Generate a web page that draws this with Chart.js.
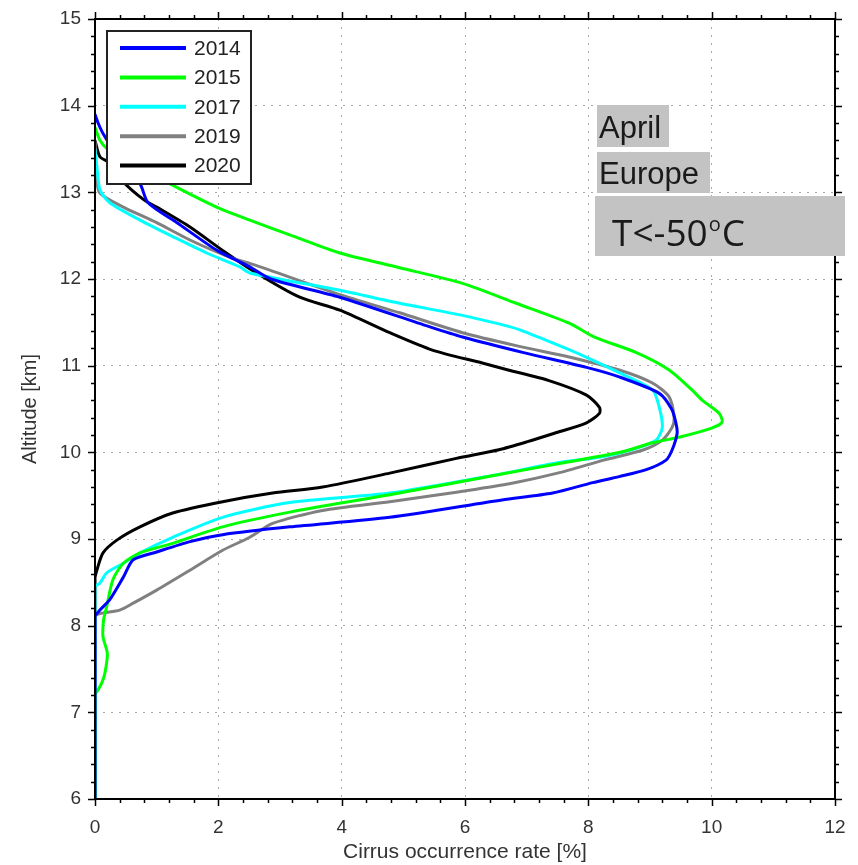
<!DOCTYPE html>
<html>
<head>
<meta charset="utf-8">
<script src="https://cdn.jsdelivr.net/npm/chart.js@4.4.1/dist/chart.umd.min.js"></script>
<style>
  html, body { margin: 0; padding: 0; background: #fff; }
  canvas { display: block; }
</style>
</head>
<body>
<canvas id="chart" width="858" height="865"></canvas>
<script>
// profiles: altitude [km] top to bottom, occurrence rate [%]
var years = ['2014', '2015', '2017', '2019', '2020'];

var alt2014  = [13.9, 13.8, 13.68, 13.4, 13.1, 12.88, 12.65, 12.33, 12.14, 12.0, 11.79, 11.45, 11.33, 11.15, 10.98, 10.87, 10.68, 10.5, 10.34, 10.22, 10.03, 9.91, 9.8, 9.72, 9.65, 9.53, 9.45, 9.25, 9.14, 9.05, 8.97, 8.85, 8.76, 8.56, 8.3, 8.18, 8.1, 6.0];
var rate2014 = [0, 0.05, 0.13, 0.38, 0.73, 0.86, 1.33, 1.98, 2.51, 2.85, 3.97, 5.42, 5.96, 6.95, 7.97, 8.5, 9.15, 9.35, 9.42, 9.44, 9.36, 9.26, 8.94, 8.5, 8.07, 7.42, 6.6, 4.78, 3.16, 2.07, 1.54, 1.0, 0.62, 0.46, 0.24, 0.08, 0, 0];

var alt2015  = [13.75, 13.6, 13.5, 13.3, 13.1, 12.83, 12.68, 12.48, 12.3, 12.13, 11.95, 11.72, 11.49, 11.33, 11.15, 10.95, 10.72, 10.6, 10.45, 10.35, 10.28, 10.18, 10.11, 10.0, 9.88, 9.75, 9.51, 9.31, 9.14, 8.95, 8.84, 8.72, 8.53, 8.22, 8.07, 7.87, 7.68, 7.45, 7.34, 7.26, 7.2, 6.0];
var rate2015 = [0, 0.08, 0.2, 0.7, 1.21, 1.97, 2.51, 3.27, 3.97, 4.94, 5.96, 6.83, 7.69, 8.1, 8.78, 9.31, 9.68, 9.85, 10.12, 10.17, 10.0, 9.5, 9.04, 8.52, 7.6, 6.6, 4.78, 3.16, 2.07, 1.26, 0.73, 0.46, 0.29, 0.19, 0.14, 0.13, 0.2, 0.16, 0.11, 0.05, 0, 0];

var alt2017  = [13.5, 13.3, 13.03, 12.88, 12.68, 12.49, 12.3, 12.14, 12.07, 11.87, 11.72, 11.58, 11.45, 11.41, 11.24, 11.12, 10.92, 10.72, 10.52, 10.29, 10.14, 10.03, 9.95, 9.88, 9.74, 9.53, 9.42, 9.25, 9.02, 8.84, 8.72, 8.61, 8.49, 8.45, 6.0];
var rate2017 = [0, 0.03, 0.08, 0.24, 0.73, 1.26, 1.81, 2.35, 2.51, 3.97, 4.94, 5.96, 6.72, 6.9, 7.5, 7.9, 8.5, 9.04, 9.15, 9.2, 9.1, 8.7, 8.23, 7.5, 6.5, 4.78, 3.16, 2.07, 1.26, 0.73, 0.46, 0.19, 0.08, 0, 0];

var alt2019  = [13.6, 13.14, 12.99, 12.83, 12.65, 12.45, 12.25, 12.16, 11.82, 11.61, 11.38, 11.22, 11.1, 10.95, 10.8, 10.64, 10.41, 10.29, 10.14, 10.03, 9.91, 9.76, 9.65, 9.54, 9.43, 9.33, 9.18, 9.02, 8.87, 8.64, 8.41, 8.26, 8.18, 8.14, 8.1, 6.0];
var rate2019 = [0, 0.03, 0.08, 0.46, 1.0, 1.54, 2.19, 2.6, 3.97, 4.94, 5.96, 6.9, 7.69, 8.5, 9.04, 9.31, 9.39, 9.36, 9.2, 8.9, 8.25, 7.5, 6.8, 5.86, 4.78, 3.69, 2.88, 2.51, 2.07, 1.54, 1.0, 0.62, 0.4, 0.08, 0, 0];

var alt2020  = [13.6, 13.41, 13.34, 13.12, 12.91, 12.83, 12.6, 12.33, 12.07, 11.79, 11.64, 11.38, 11.18, 11.03, 10.95, 10.83, 10.66, 10.52, 10.45, 10.34, 10.22, 10.12, 10.03, 9.93, 9.76, 9.6, 9.53, 9.43, 9.3, 9.14, 8.99, 8.84, 8.64, 8.55, 6.0];
var rate2020 = [0, 0.08, 0.24, 0.46, 0.8, 1.0, 1.54, 2.07, 2.62, 3.32, 3.97, 4.78, 5.47, 6.28, 6.7, 7.35, 7.97, 8.18, 8.18, 7.97, 7.45, 7.0, 6.55, 5.86, 4.78, 3.69, 2.88, 2.07, 1.26, 0.73, 0.36, 0.13, 0.03, 0, 0];

var xTicks = [0, 2, 4, 6, 8, 10, 12];
var yTicks = [6, 7, 8, 9, 10, 11, 12, 13, 14, 15];

var labelFont = "'Liberation Sans', Arial, sans-serif";

function profile(alts, rates) {
  return alts.map(function (a, i) { return { x: rates[i], y: a }; });
}

function line(label, alts, rates, color) {
  return {
    label: label,
    data: profile(alts, rates),
    showLine: true,
    borderColor: color,
    backgroundColor: color,
    borderWidth: 3,
    pointRadius: 0,
    tension: 0.25
  };
}

// frame, outward ticks (major + minor), legend box and the grey labels
var decorations = {
  id: 'decorations',
  afterDraw: function (chart) {
    var ctx = chart.ctx;
    var a = chart.chartArea;
    var xs = chart.scales.x, ys = chart.scales.y;
    ctx.save();

    ctx.strokeStyle = '#000';
    ctx.lineWidth = 2;
    ctx.strokeRect(a.left, a.top, a.right - a.left, a.bottom - a.top);

    ctx.lineWidth = 1.5;
    ctx.beginPath();
    for (var k = 0; k <= 30; k++) {
      var v = k * 0.4;
      var len = (k % 5 === 0) ? 7 : 4;
      var px = Math.round(xs.getPixelForValue(v)) + 0.5;
      ctx.moveTo(px, a.bottom); ctx.lineTo(px, a.bottom + len);
      ctx.moveTo(px, a.top); ctx.lineTo(px, a.top - len);
    }
    for (var j = 0; j <= 45; j++) {
      var w = 6 + j * 0.2;
      var l2 = (j % 5 === 0) ? 7 : 4;
      var py = Math.round(ys.getPixelForValue(w)) + 0.5;
      ctx.moveTo(a.left, py); ctx.lineTo(a.left - l2, py);
      ctx.moveTo(a.right, py); ctx.lineTo(a.right + l2, py);
    }
    ctx.stroke();

    // legend
    ctx.fillStyle = '#fff';
    ctx.fillRect(107, 31, 144, 153);
    ctx.strokeStyle = '#222';
    ctx.lineWidth = 2;
    ctx.strokeRect(107, 31, 144, 153);
    ctx.font = '21px ' + labelFont;
    ctx.textBaseline = 'middle';
    chart.data.datasets.forEach(function (ds, i) {
      var y = 48 + i * 29.4;
      ctx.strokeStyle = ds.borderColor;
      ctx.lineWidth = 4;
      ctx.beginPath();
      ctx.moveTo(120, y); ctx.lineTo(186, y);
      ctx.stroke();
      ctx.fillStyle = '#222';
      ctx.fillText(ds.label, 194, y + 1);
    });

    // grey annotation boxes
    ctx.fillStyle = '#c3c3c3';
    ctx.fillRect(597, 105, 72, 42);
    ctx.fillRect(597, 152, 113, 41);
    ctx.fillRect(595, 196, 250, 60);
    ctx.fillStyle = '#1a1a1a';
    ctx.textBaseline = 'alphabetic';
    ctx.font = '31px ' + labelFont;
    ctx.fillText('April', 599, 138);
    ctx.fillText('Europe', 599, 184);
    ctx.font = "37px 'Open Sans', 'Noto Sans', sans-serif";
    var t1 = 'T<-50';
    ctx.fillText(t1, 612, 246);
    var wT = ctx.measureText(t1).width;
    ctx.font = "20px 'Open Sans', 'Noto Sans', sans-serif";
    ctx.fillText('o', 612 + wT + 1, 231);
    var wO = ctx.measureText('o').width;
    ctx.font = "37px 'Open Sans', 'Noto Sans', sans-serif";
    ctx.fillText('C', 612 + wT + wO + 2, 246);

    ctx.restore();
  }
};

var ctx = document.getElementById('chart').getContext('2d');

var chart = new Chart(ctx, {
  type: 'scatter',
  data: {
    datasets: [
      line(years[0], alt2014, rate2014, '#0000ff'),
      line(years[1], alt2015, rate2015, '#00ff00'),
      line(years[2], alt2017, rate2017, '#00ffff'),
      line(years[3], alt2019, rate2019, '#808080'),
      line(years[4], alt2020, rate2020, '#000000')
    ]
  },
  options: {
    responsive: false,
    animation: false,
    devicePixelRatio: 1,
    layout: { padding: { top: 19, right: 23, left: 0, bottom: 0 } },
    plugins: { legend: { display: false }, tooltip: { enabled: false } },
    scales: {
      x: {
        type: 'linear',
        min: 0, max: 12,
        afterBuildTicks: function (s) { s.ticks = xTicks.map(function (v) { return { value: v }; }); },
        afterFit: function (s) { s.height = 66; s.paddingLeft = 0; s.paddingRight = 0; },
        ticks: { padding: 17, color: '#333', font: { family: labelFont, size: 19 } },
        grid: { drawTicks: false, color: '#a8a8a8', lineWidth: 1 },
        border: { display: false, dash: [2, 6] },
        title: {
          display: true,
          text: 'Cirrus occurrence rate [%]',
          color: '#333',
          font: { family: labelFont, size: 21 },
          padding: { top: 0, bottom: 0 }
        }
      },
      y: {
        type: 'linear',
        min: 6, max: 15,
        afterBuildTicks: function (s) { s.ticks = yTicks.map(function (v) { return { value: v }; }); },
        afterFit: function (s) { s.width = 95; s.paddingTop = 0; s.paddingBottom = 0; },
        ticks: { padding: 14, color: '#333', font: { family: labelFont, size: 19 } },
        grid: { drawTicks: false, color: '#a8a8a8', lineWidth: 1 },
        border: { display: false, dash: [2, 6] },
        title: {
          display: true,
          text: 'Altitude [km]',
          color: '#333',
          font: { family: labelFont, size: 20 },
          padding: { top: 18, bottom: 0 }
        }
      }
    }
  },
  plugins: [decorations]
});
</script>
</body>
</html>
